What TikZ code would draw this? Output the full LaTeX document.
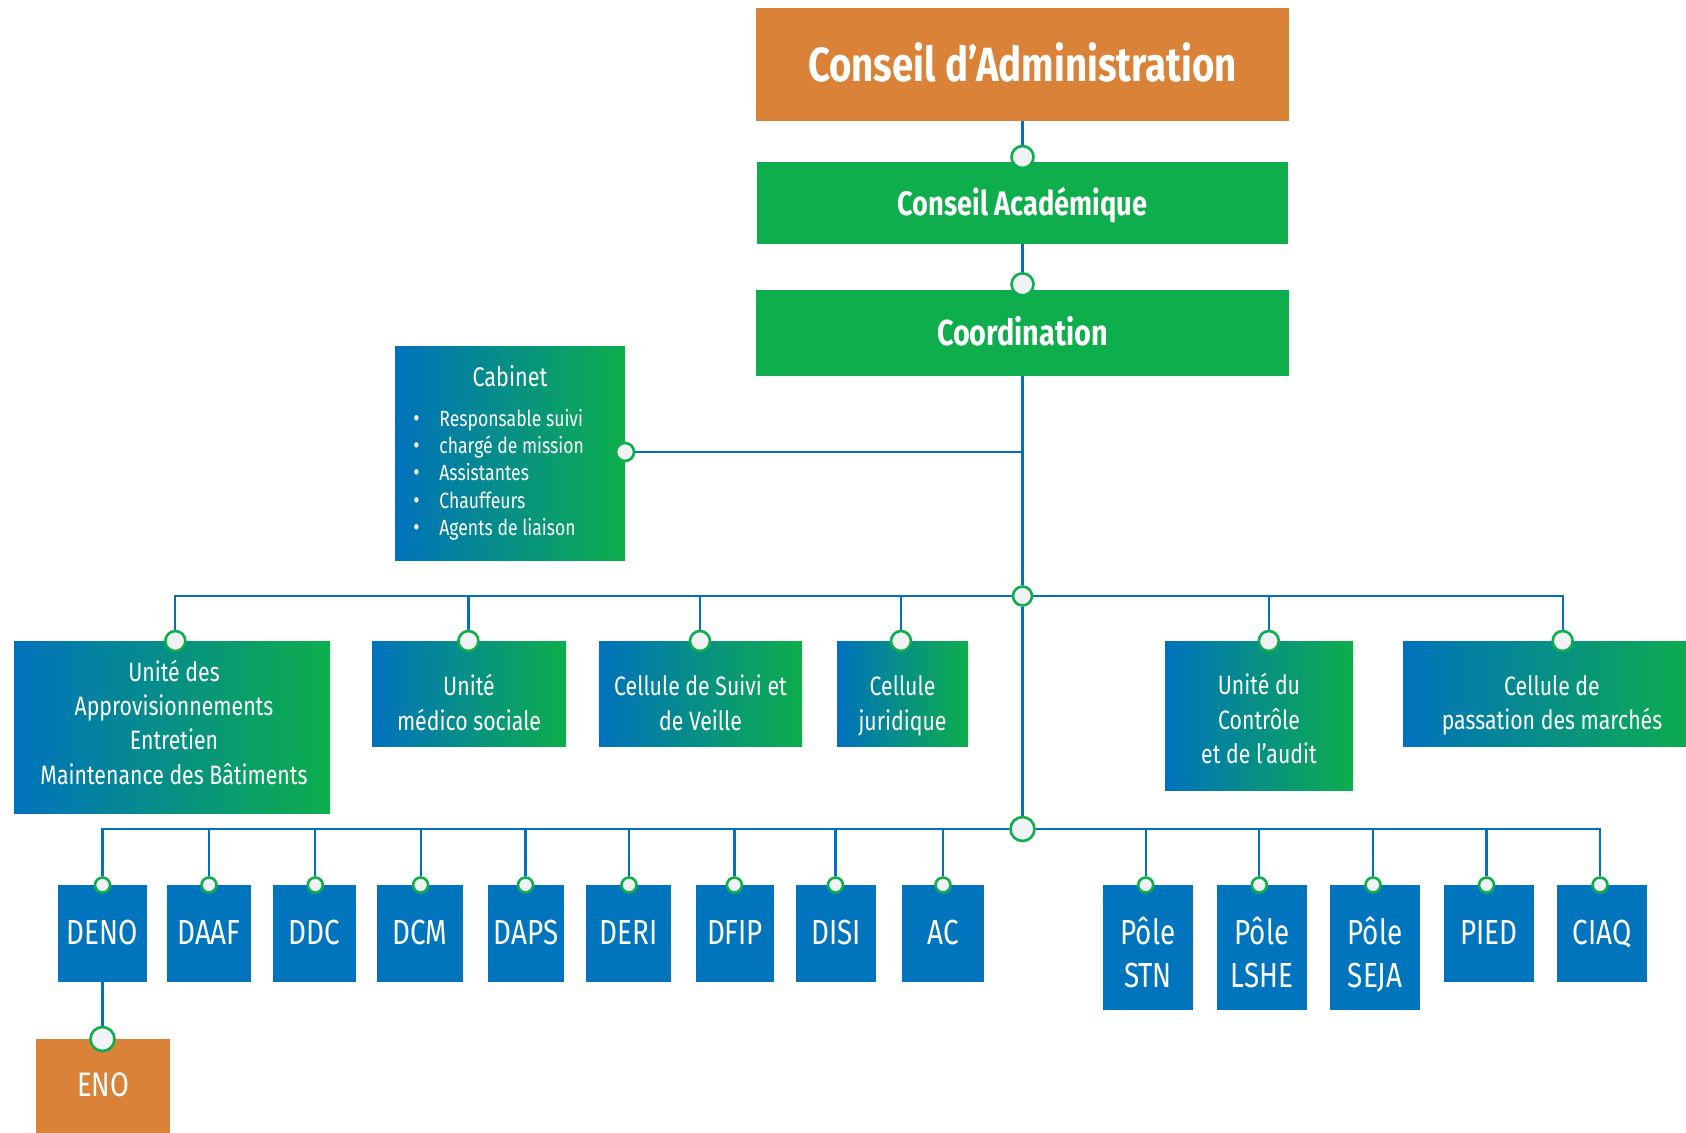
\documentclass[tikz,border=0pt]{standalone}
\usepackage{fontspec}
\setmainfont{Fira Sans}[FakeStretch=0.8]
\usetikzlibrary{backgrounds}
\definecolor{orng}{RGB}{217,130,56}
\definecolor{ggreen}{RGB}{13,174,75}
\definecolor{dblue}{RGB}{0,117,190}
\definecolor{gblue}{RGB}{0,114,189}
\definecolor{lblue}{RGB}{0,112,192}
\definecolor{dotfill}{RGB}{240,242,245}
\begin{document}
\begin{tikzpicture}[x=0.5pt,y=-0.5pt,
  conn/.style={draw=lblue, line width=1.1pt},
  jdot/.style={circle, fill=dotfill, draw=ggreen, line width=1.3pt, inner sep=0pt, minimum size=#1},
  gbox/.style={rectangle, inner sep=0pt, left color=gblue, right color=ggreen, draw=none},
  bbox/.style={rectangle, inner sep=0pt, fill=dblue, draw=none},
  obox/.style={rectangle, inner sep=0pt, fill=orng, draw=none},
  grbox/.style={rectangle, inner sep=0pt, fill=ggreen, draw=none},
  txt/.style={text=white, inner sep=0pt, align=center, anchor=base},
  midfont/.style={font=\fontsize{13.3}{17.2}\selectfont},
  lowfont/.style={font=\fontsize{17.4}{21.65}\selectfont}]
\useasboundingbox (0,0) rectangle (1686,1132);
\clip (0,0) rectangle (1686,1132);

% top chain
\node[obox, minimum width=266.5pt, minimum height=56.5pt] (cda) at (1022.5,64.5) {};
\node[txt, font=\fontsize{24}{28}\selectfont\bfseries] (cda-t) at (1022.5,81.7) {Conseil d’Administration};
\node[grbox, minimum width=265.5pt, minimum height=41pt] (cac) at (1022.5,203) {};
\node[txt, font=\fontsize{17}{20}\selectfont\bfseries] (cac-t) at (1022.5,215) {Conseil Académique};
\node[grbox, minimum width=266.5pt, minimum height=43pt] (coo) at (1022.5,333) {};
\node[txt, font=\fontsize{18}{21}\selectfont\bfseries] (coo-t) at (1022.5,345) {Coordination};
\node[jdot=11pt] (cac-d) at (1022.5,157) {};
\node[jdot=11pt] (coo-d) at (1022.5,284.3) {};

% cabinet
\node[gbox, minimum width=115pt, minimum height=107pt] (cab) at (510,453) {};
\node[txt, font=\fontsize{13.5}{16}\selectfont] (cab-t) at (510,386) {Cabinet};
\node[text=white, inner sep=0pt, anchor=base west, font=\fontsize{11}{13.7}\selectfont] (cab-l) at (413,426)
  {\begin{tabular}[t]{@{}l@{}}
   \makebox[13pt][l]{\large•}Responsable suivi\\
   \makebox[13pt][l]{\large•}chargé de mission\\
   \makebox[13pt][l]{\large•}Assistantes\\
   \makebox[13pt][l]{\large•}Chauffeurs\\
   \makebox[13pt][l]{\large•}Agents de liaison
   \end{tabular}};
\node[jdot=9pt] (cab-d) at (625,452) {};
\coordinate (cabj) at (1022.5,452);

% junctions
\node[jdot=9.5pt] (j1) at (1022.5,596) {};
\node[jdot=12pt] (j2) at (1022.5,829) {};

% middle row
\node[gbox, minimum width=158pt, minimum height=86pt] (ua) at (172,727) {};
\node[txt, font=\fontsize{13.3}{17.05}\selectfont] (ua-t) at (174,784) {Unité des\\Approvisionnements\\Entretien\\Maintenance des Bâtiments};
\node[jdot=10pt] (ua-d) at (175.3,641) {};

\node[gbox, minimum width=97pt, minimum height=52.5pt] (ums) at (469,693.5) {};
\node[txt, midfont] (ums-t) at (469,730) {Unité\\médico sociale};
\node[jdot=10pt] (ums-d) at (468.4,641) {};

\node[gbox, minimum width=101.5pt, minimum height=52.5pt] (csv) at (700.5,693.5) {};
\node[txt, midfont] (csv-t) at (700.5,730) {Cellule de Suivi et\\de Veille};
\node[jdot=10pt] (csv-d) at (700,641) {};

\node[gbox, minimum width=65.5pt, minimum height=52.5pt] (cj) at (902.5,693.5) {};
\node[txt, midfont] (cj-t) at (902.5,730) {Cellule\\juridique};
\node[jdot=10pt] (cj-d) at (901,641) {};

\node[gbox, minimum width=94pt, minimum height=74.5pt] (uca) at (1259,715.5) {};
\node[txt, midfont] (uca-t) at (1259,763.5) {Unité du\\Contrôle\\et de l’audit};
\node[jdot=10pt] (uca-d) at (1268.8,641) {};

\node[gbox, minimum width=149pt, minimum height=52.5pt] (cpm) at (1552,693.5) {};
\node[txt, midfont] (cpm-t) at (1552,729.5) {Cellule de\\passation des marchés};
\node[jdot=10pt] (cpm-d) at (1562.6,641) {};

% bottom row
\foreach \n/\cx/\w/\t/\dx in {deno/102.5/44.5pt/DENO/102.5, daaf/209/42pt/DAAF/209, ddc/314.5/41.5pt/DDC/315.3,
  dcm/420/43pt/DCM/420.6, daps/526/38pt/DAPS/525.5, deri/628.5/42.5pt/DERI/629, dfip/735/39pt/DFIP/734.4,
  disi/836/40pt/DISI/835.5, ac/943/41pt/AC/943, pied/1489/45pt/PIED/1486.5, ciaq/1602/45pt/CIAQ/1600}{
  \node[bbox, minimum width=\w, minimum height=48.35pt] (\n) at (\cx,933.35) {};
  \node[txt, lowfont] (\n-t) at (\cx,944) {\t};
  \node[jdot=7.5pt] (\n-d) at (\dx,885) {};
}
\foreach \n/\cx/\t/\dx in {stn/1148/STN/1145.7, lshe/1262/LSHE/1259.3, seja/1375/SEJA/1373}{
  \node[bbox, minimum width=45pt, minimum height=62.35pt] (\n) at (\cx,947.35) {};
  \node[txt, lowfont] (\n-t) at (\cx,987.5) {Pôle\\\t};
  \node[jdot=7.5pt] (\n-d) at (\dx,885) {};
}

\node[obox, minimum width=67pt, minimum height=50.5pt] (eno) at (103,1089.5) {};
\node[txt, font=\fontsize{17}{20}\selectfont] (eno-t) at (103,1096.7) {ENO};
\node[jdot=12pt] (eno-d) at (102.5,1039) {};

% connectors
\begin{scope}[on background layer]
  \draw[conn] (cda.south) -- (cac-d);
  \draw[conn] (cac.south) -- (coo-d);
  \draw[conn] (coo.south) -- (j1);
  \draw[conn] (j1) -- (j2);
  \draw[conn] (cab-d) -- (cabj);
  \foreach \n in {ua,ums,csv,cj,uca,cpm}{\draw[conn] (\n-d) |- (j1);}
  \foreach \n in {deno,daaf,ddc,dcm,daps,deri,dfip,disi,ac,stn,lshe,seja,pied,ciaq}{\draw[conn] (\n-d) |- (j2);}
  \draw[conn] (deno.south) -- (eno-d);
\end{scope}
\end{tikzpicture}
\end{document}
